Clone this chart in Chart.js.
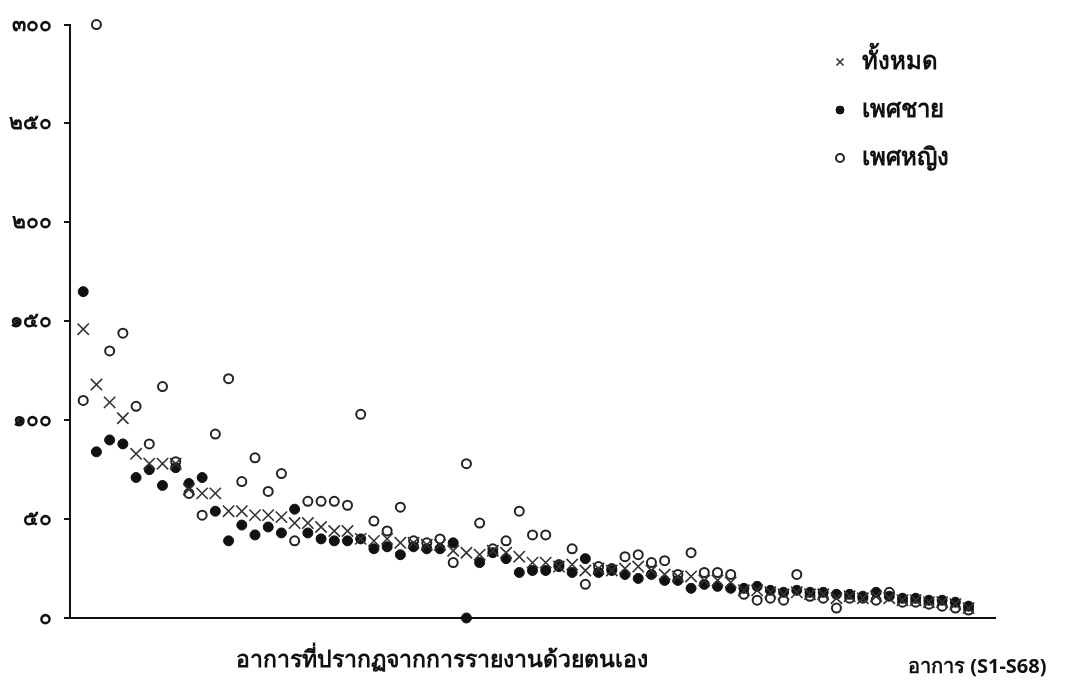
<!DOCTYPE html>
<html>
<head>
<meta charset="utf-8">
<script src="https://cdn.jsdelivr.net/npm/chart.js@4.4.1/dist/chart.umd.min.js"></script>
<style>
  body { margin: 0; background: #fff; }
  #wrap { width: 1069px; height: 686px; }
</style>
</head>
<body>
<div id="wrap"><canvas id="chart" width="1069" height="686"></canvas></div>
<script>
// อาการ S1-S68
const symptoms = [];
for (let i = 1; i <= 68; i++) symptoms.push("S" + i);

// ค่าที่อ่านจากภาพ
const totalVals = [146, 118, 109, 101, 83, 78, 78, 78, 65, 63, 63, 54, 54, 52, 52, 51, 48, 48, 46, 44,
  44, 40, 39, 40, 38, 38, 37, 37, 34, 33, 32, 34, 33, 31, 28, 28, 26, 27, 24, 25,
  24, 25, 26, 24, 22, 21, 21, 19, 19, 18, 14, 14, 13, 12, 13, 12, 12, 10, 11, 10,
  11, 10, 9, 9, 8, 8, 7, 5];
const maleVals = [165, 84, 90, 88, 71, 75, 67, 76, 68, 71, 54, 39, 47, 42, 46, 43, 55, 43, 40, 39,
  39, 40, 35, 36, 32, 36, 35, 35, 38, 0, 28, 33, 30, 23, 24, 24, 26, 23, 30, 23,
  24, 22, 20, 22, 19, 19, 15, 17, 16, 15, 15, 16, 14, 13, 14, 13, 13, 12, 12, 11,
  13, 11, 10, 10, 9, 9, 8, 6];
const femaleVals = [110, 300, 135, 144, 107, 88, 117, 79, 63, 52, 93, 121, 69, 81, 64, 73, 39, 59, 59, 59,
  57, 103, 49, 44, 56, 39, 38, 40, 28, 78, 48, 35, 39, 54, 42, 42, 27, 35, 17, 26,
  25, 31, 32, 28, 29, 22, 33, 23, 23, 22, 12, 9, 10, 9, 22, 11, 10, 5, 10, 10,
  9, 13, 8, 8, 7, 6, 5, 4];

const seriesNames = ["ทั้งหมด", "เพศชาย", "เพศหญิง"];
const yTicks = [0, 50, 100, 150, 200, 250, 300];
const yTickLabels = ["๐", "๕๐", "๑๐๐", "๑๕๐", "๒๐๐", "๒๕๐", "๓๐๐"];
const xTitle = "อาการที่ปรากฏจากการรายงานด้วยตนเอง";
const xTitleRight = "อาการ (S1-S68)";

const FONT = "'Noto Sans', 'DejaVu Sans', sans-serif";

function toPoints(vals) {
  return vals.map((v, i) => ({ x: i + 1, y: v }));
}

const styles = [
  { pointStyle: "crossRot", radius: 8, borderWidth: 1.6, borderColor: "#333", backgroundColor: "#333" },
  { pointStyle: "circle", radius: 5, borderWidth: 1, borderColor: "#111", backgroundColor: "#111" },
  { pointStyle: "circle", radius: 4.5, borderWidth: 2, borderColor: "#222", backgroundColor: "#fff" }
];

// legend + axis titles
const extras = {
  id: "extras",
  afterDraw(c) {
    const ctx = c.ctx;
    ctx.save();
    const lx = 840, ly = [62, 110, 158];
    seriesNames.forEach((name, i) => {
      const s = styles[i];
      ctx.strokeStyle = s.borderColor;
      ctx.fillStyle = s.backgroundColor;
      ctx.lineWidth = s.borderWidth;
      Chart.helpers.drawPoint(ctx, { pointStyle: s.pointStyle, radius: i === 0 ? 5 : 4, borderWidth: s.borderWidth }, lx, ly[i]);
      ctx.fillStyle = "#111";
      ctx.font = "bold 24px " + FONT;
      ctx.textAlign = "left";
      ctx.textBaseline = "middle";
      ctx.fillText(name, 862, ly[i]);
    });
    ctx.fillStyle = "#111";
    ctx.font = "bold 23px " + FONT;
    ctx.textAlign = "center";
    ctx.fillText(xTitle, 442, 660);
    ctx.font = "bold 20px " + FONT;
    ctx.textAlign = "left";
    ctx.fillText(xTitleRight, 908, 667);
    ctx.restore();
  }
};

new Chart(document.getElementById("chart"), {
  type: "scatter",
  data: {
    datasets: [totalVals, maleVals, femaleVals].map((vals, i) => ({
      label: seriesNames[i],
      data: toPoints(vals),
      pointStyle: styles[i].pointStyle,
      pointRadius: styles[i].radius,
      pointBorderWidth: styles[i].borderWidth,
      pointBorderColor: styles[i].borderColor,
      pointBackgroundColor: styles[i].backgroundColor,
      clip: false
    }))
  },
  options: {
    responsive: false,
    animation: false,
    layout: { padding: { top: 18, right: 74, left: 0, bottom: 0 } },
    plugins: { legend: { display: false }, tooltip: { enabled: false } },
    scales: {
      x: {
        type: "linear",
        min: 0,
        max: 70,
        grid: { display: false, drawTicks: false },
        border: { display: true, color: "#111", width: 2 },
        ticks: { display: false },
        afterFit(s) { s.height = 68; }
      },
      y: {
        min: 0,
        max: 300,
        afterBuildTicks(s) { s.ticks = yTicks.map(v => ({ value: v })); },
        grid: { display: true, drawOnChartArea: false, drawTicks: true, tickLength: 6, color: "#111", lineWidth: 2 },
        border: { display: true, color: "#111", width: 2 },
        ticks: {
          padding: 12,
          color: "#111",
          font: { family: FONT, size: 21, weight: "bold" },
          callback: (v) => yTickLabels[yTicks.indexOf(v)]
        },
        afterFit(s) { s.width = 70; }
      }
    }
  },
  plugins: [extras]
});
</script>
</body>
</html>
